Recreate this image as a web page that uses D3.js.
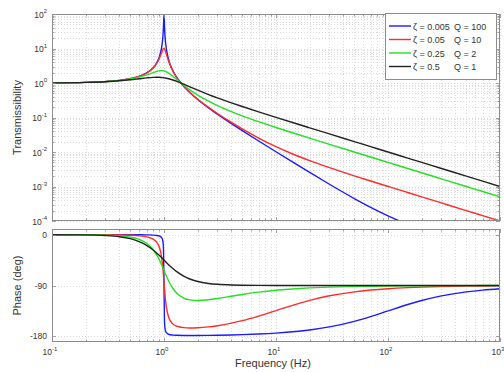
<!DOCTYPE html>
<html>
<head>
<meta charset="utf-8">
<script src="https://cdn.jsdelivr.net/npm/d3@7"></script>
<style>
body { margin: 0; background: #fff; }
svg { font-family: "Liberation Sans", Arial, sans-serif; }
</style>
</head>
<body>
<div id="chart"></div>
<script>
// frequency (Hz), natural frequency at 1 Hz
var freq = [0.1, 0.2, 0.3, 0.4, 0.5, 0.6, 0.7, 0.8, 0.85, 0.9, 0.95, 0.97, 0.98, 0.99, 1.0,
    1.01, 1.02, 1.03, 1.05, 1.1, 1.2, 1.3, 1.5, 1.7, 2, 2.5, 3, 4, 5, 7, 10, 15, 20, 30, 50, 70,
    100, 150, 200, 300, 500, 700, 1000];

var seriesNames = ["\u03b6 = 0.005", "\u03b6 = 0.05", "\u03b6 = 0.25", "\u03b6 = 0.5"];
var qNames = ["Q = 100", "Q = 10", "Q = 2", "Q = 1"];
var seriesColors = ["#1a1aff", "#ff2a2a", "#22e022", "#222222"];

var transBlue = [1.010, 1.042, 1.099, 1.190, 1.333, 1.562, 1.961, 2.777, 3.602, 5.258, 10.21, 16.70,
    24.51, 44.99, 100.0, 44.46, 24.00, 16.19, 9.706, 4.756, 2.272, 1.449, 0.8000, 0.5292, 0.3334,
    0.1905, 0.1251, 0.06672, 0.04172, 0.02088, 0.01015, 0.004514, 0.002556, 0.001161, 0.0004474,
    0.0002492, 0.0001414, 0.00008013, 0.00005590, 0.00003514, 0.00002040, 0.00001443, 0.00001005];
var transRed = [1.010, 1.042, 1.099, 1.190, 1.332, 1.559, 1.947, 2.720, 3.458, 4.776, 7.379, 8.845,
    9.506, 9.951, 10.05, 9.760, 9.162, 8.401, 6.852, 4.244, 2.208, 1.436, 0.8032, 0.5345, 0.3392,
    0.1961, 0.1304, 0.07178, 0.04658, 0.02543, 0.01428, 0.008048, 0.005604, 0.003518, 0.002040,
    0.001443, 0.001005, 0.0006682, 0.0005006, 0.0003335, 0.0002000, 0.0001429, 0.0001000];
var transGreen = [1.010, 1.041, 1.096, 1.181, 1.304, 1.477, 1.713, 2.001, 2.141, 2.245, 2.283, 2.275,
    2.265, 2.252, 2.236, 2.217, 2.194, 2.169, 2.111, 1.939, 1.567, 1.258, 0.8575, 0.6333, 0.4472,
    0.2966, 0.2215, 0.1478, 0.1116, 0.07563, 0.05144, 0.03376, 0.02518, 0.01672, 0.01001,
    0.007147, 0.005001, 0.003334, 0.002500, 0.001667, 0.001000, 0.0007143, 0.0005000];
var transBlack = [1.010, 1.040, 1.090, 1.158, 1.240, 1.329, 1.409, 1.460, 1.468, 1.463, 1.444, 1.434,
    1.428, 1.421, 1.414, 1.407, 1.399, 1.391, 1.374, 1.328, 1.222, 1.114, 0.9233, 0.7759, 0.6202,
    0.4631, 0.3701, 0.2656, 0.2080, 0.1458, 0.1010, 0.06696, 0.05013, 0.03337, 0.02001, 0.01429,
    0.01000, 0.006667, 0.005000, 0.003333, 0.002000, 0.001429, 0.001000];

var phaseBlue = [0, -0.01, -0.02, -0.04, -0.10, -0.19, -0.39, -0.81, -1.27, -2.20, -5.02, -8.77,
    -13.34, -25.88, -89.43, -152.74, -165.25, -169.81, -173.55, -176.37, -177.75, -178.18, -178.45,
    -178.51, -178.47, -178.30, -178.07, -177.56, -177.02, -175.91, -174.23, -171.43, -168.66,
    -163.28, -153.42, -145.00, -135.01, -123.69, -116.57, -108.43, -101.31, -98.13, -95.71];
var phaseRed = [-0.01, -0.05, -0.17, -0.44, -0.95, -1.92, -3.81, -7.95, -12.17, -20.20, -38.83, -53.11,
    -62.40, -72.98, -84.29, -95.49, -105.79, -114.71, -128.32, -146.07, -157.90, -161.92, -164.63,
    -165.21, -164.88, -163.24, -161.15, -156.67, -152.24, -144.17, -134.42, -123.31, -116.28,
    -108.24, -101.20, -98.05, -95.65, -93.78, -92.83, -91.89, -91.14, -90.81, -90.57];
var phaseGreen = [-0.03, -0.24, -0.83, -2.08, -4.40, -8.42, -15.17, -26.21, -33.83, -42.88, -52.99,
    -57.17, -59.27, -61.36, -63.43, -65.49, -67.51, -69.49, -73.35, -82.09, -95.29, -103.69, -112.17,
    -115.42, -116.57, -115.27, -113.07, -108.97, -105.85, -101.77, -98.42, -95.68, -94.28, -92.86,
    -91.72, -91.23, -90.86, -90.57, -90.43, -90.29, -90.17, -90.12, -90.11];
var phaseBlack = [-0.06, -0.46, -1.55, -3.66, -7.13, -12.19, -18.93, -27.11, -31.56, -36.09, -40.61,
    -42.39, -43.27, -44.14, -45.00, -45.86, -46.70, -47.53, -49.18, -53.08, -59.95, -65.53, -73.50,
    -78.49, -82.87, -86.34, -87.88, -89.11, -89.54, -89.83, -89.94, -89.98, -89.99, -90.00, -90.00,
    -90.00, -90.00, -90.00, -90.00, -90.00, -90.00, -90.00, -90.00];

var freqTicks = [0.1, 1, 10, 100, 1000];
var freqTickExp = ["-1", "0", "1", "2", "3"];
var transTicks = [1e-4, 1e-3, 1e-2, 1e-1, 1, 10, 100];
var transTickExp = ["-4", "-3", "-2", "-1", "0", "1", "2"];
var phaseTicks = [0, -90, -180];

var transSeries = [transBlue, transRed, transGreen, transBlack];
var phaseSeries = [phaseBlue, phaseRed, phaseGreen, phaseBlack];

var width = 504, height = 372;
var left = 52, right = 500;
var top1 = 14, bottom1 = 221, top2 = 229, bottom2 = 342;

var svg = d3.select("#chart").append("svg")
    .attr("width", width)
    .attr("height", height);

var x = d3.scaleLog().domain([0.1, 1000]).range([left, right]);
var yT = d3.scaleLog().domain([1e-4, 100]).range([bottom1, top1]);
var yP = d3.scaleLinear().domain([-190, 10]).range([bottom2, top2]);

var gridColor = "#d4d4d4";
var boxColor = "#8c8c8c";
var textColor = "#333";

var xAll = x.ticks();
var yAll = yT.ticks();

function isDecade(v) {
    var l = Math.log10(v);
    return Math.abs(l - Math.round(l)) < 1e-9;
}

function drawPanel(name, yScale, yTop, yBottom, yGrid) {
    var g = svg.append("g").attr("class", name);

    g.append("rect")
        .attr("x", left).attr("y", yTop)
        .attr("width", right - left).attr("height", yBottom - yTop)
        .attr("fill", "#fff");

    // vertical grid (major + minor)
    g.selectAll(".vgrid").data(xAll).enter().append("line")
        .attr("class", "vgrid")
        .attr("x1", function(d) { return Math.round(x(d)) + 0.5; })
        .attr("x2", function(d) { return Math.round(x(d)) + 0.5; })
        .attr("y1", yTop).attr("y2", yBottom)
        .attr("stroke", gridColor)
        .attr("stroke-width", 0.8)
        .attr("stroke-dasharray", "1,2");

    g.selectAll(".hgrid").data(yGrid).enter().append("line")
        .attr("class", "hgrid")
        .attr("x1", left).attr("x2", right)
        .attr("y1", function(d) { return Math.round(yScale(d)) + 0.5; })
        .attr("y2", function(d) { return Math.round(yScale(d)) + 0.5; })
        .attr("stroke", gridColor)
        .attr("stroke-width", 0.8)
        .attr("stroke-dasharray", "1,2");

    g.append("clipPath").attr("id", "clip-" + name)
        .append("rect")
        .attr("x", left).attr("y", yTop)
        .attr("width", right - left).attr("height", yBottom - yTop);

    return g;
}

function drawFrame(g, yScale, yTop, yBottom, yTickVals, yMinor) {
    // x ticks on bottom and top, pointing inward
    g.selectAll(".xt").data(xAll).enter().append("path")
        .attr("class", "xt")
        .attr("d", function(d) {
            var px = Math.round(x(d)) + 0.5;
            var len = isDecade(d) ? 4 : 2.5;
            return "M" + px + "," + yBottom + "v" + (-len) + "M" + px + "," + yTop + "v" + len;
        })
        .attr("stroke", boxColor).attr("stroke-width", 0.8);

    g.selectAll(".yt").data(yTickVals.concat(yMinor)).enter().append("path")
        .attr("class", "yt")
        .attr("d", function(d, i) {
            var py = Math.round(yScale(d)) + 0.5;
            var len = i < yTickVals.length ? 4 : 2.5;
            return "M" + left + "," + py + "h" + len + "M" + right + "," + py + "h" + (-len);
        })
        .attr("stroke", boxColor).attr("stroke-width", 0.8);

    g.append("rect")
        .attr("x", left + 0.5).attr("y", yTop + 0.5)
        .attr("width", right - left - 1).attr("height", yBottom - yTop - 1)
        .attr("fill", "none")
        .attr("stroke", boxColor)
        .attr("stroke-width", 1);
}

function powerLabel(sel, base, exp) {
    sel.append("tspan").text(base);
    sel.append("tspan")
        .attr("dy", -4.5)
        .attr("font-size", "6px")
        .text(exp);
}

// ---- top panel: transmissibility ----
var transPanel = drawPanel("trans", yT, top1, bottom1, yAll);

var lineT = d3.line()
    .x(function(d) { return x(d[0]); })
    .y(function(d) { return yT(d[1]); })
    .curve(d3.curveMonotoneX);

transPanel.append("g").attr("clip-path", "url(#clip-trans)")
    .selectAll(".tline").data(transSeries).enter().append("path")
    .attr("class", "tline")
    .attr("d", function(s) { return lineT(freq.map(function(f, i) { return [f, s[i]]; })); })
    .attr("fill", "none")
    .attr("stroke", function(s, i) { return seriesColors[i]; })
    .attr("stroke-width", 1.4);

drawFrame(transPanel, yT, top1, bottom1,
    transTicks, yAll.filter(function(d) { return !isDecade(d); }));

transPanel.selectAll(".ylab").data(transTicks).enter().append("text")
    .attr("class", "ylab")
    .attr("x", 47)
    .attr("y", function(d) { return yT(d) + 3.5; })
    .attr("text-anchor", "end")
    .attr("font-size", "8.5px")
    .attr("fill", textColor)
    .each(function(d, i) { powerLabel(d3.select(this), "10", transTickExp[i]); });

// ---- bottom panel: phase ----
var phasePanel = drawPanel("phase", yP, top2, bottom2, phaseTicks);

var lineP = d3.line()
    .x(function(d) { return x(d[0]); })
    .y(function(d) { return yP(d[1]); })
    .curve(d3.curveMonotoneX);

phasePanel.append("g").attr("clip-path", "url(#clip-phase)")
    .selectAll(".pline").data(phaseSeries).enter().append("path")
    .attr("class", "pline")
    .attr("d", function(s) { return lineP(freq.map(function(f, i) { return [f, s[i]]; })); })
    .attr("fill", "none")
    .attr("stroke", function(s, i) { return seriesColors[i]; })
    .attr("stroke-width", 1.4);

drawFrame(phasePanel, yP, top2, bottom2, phaseTicks, []);

phasePanel.selectAll(".plab").data(phaseTicks).enter().append("text")
    .attr("class", "plab")
    .attr("x", 47)
    .attr("y", function(d) { return yP(d) + 3; })
    .attr("text-anchor", "end")
    .attr("font-size", "8.5px")
    .attr("fill", textColor)
    .text(function(d) { return d === 0 ? "0" : "-" + Math.abs(d); });

phasePanel.selectAll(".xlab").data(freqTicks).enter().append("text")
    .attr("class", "xlab")
    .attr("x", function(d) { return x(d) - 2; })
    .attr("y", 355)
    .attr("text-anchor", "middle")
    .attr("font-size", "8.5px")
    .attr("fill", textColor)
    .each(function(d, i) { powerLabel(d3.select(this), "10", freqTickExp[i]); });

// axis titles
svg.append("text")
    .attr("transform", "translate(21," + ((top1 + bottom1) / 2) + ") rotate(-90)")
    .attr("text-anchor", "middle")
    .attr("font-size", "11px")
    .attr("fill", textColor)
    .text("Transmissibility");

svg.append("text")
    .attr("transform", "translate(21," + ((top2 + bottom2) / 2) + ") rotate(-90)")
    .attr("text-anchor", "middle")
    .attr("font-size", "11px")
    .attr("fill", textColor)
    .text("Phase (deg)");

svg.append("text")
    .attr("x", 273)
    .attr("y", 367)
    .attr("text-anchor", "middle")
    .attr("font-size", "11px")
    .attr("fill", textColor)
    .text("Frequency (Hz)");

// legend
var legend = svg.append("g").attr("transform", "translate(385,13)");
legend.append("rect")
    .attr("x", 0.5).attr("y", 0.5)
    .attr("width", 111).attr("height", 66)
    .attr("fill", "#fff")
    .attr("stroke", boxColor);

var rows = legend.selectAll(".row").data(seriesNames).enter().append("g")
    .attr("class", "row")
    .attr("transform", function(d, i) { return "translate(0," + (13 + i * 13.5) + ")"; });

rows.append("line")
    .attr("x1", 4).attr("x2", 26)
    .attr("stroke", function(d, i) { return seriesColors[i]; })
    .attr("stroke-width", 1.4);

rows.append("text")
    .attr("x", 28).attr("y", 3.5)
    .attr("font-size", "9px")
    .attr("fill", textColor)
    .text(function(d) { return d; });

rows.append("text")
    .attr("x", 69).attr("y", 3.5)
    .attr("font-size", "9px")
    .attr("fill", textColor)
    .text(function(d, i) { return qNames[i]; });
</script>
</body>
</html>
